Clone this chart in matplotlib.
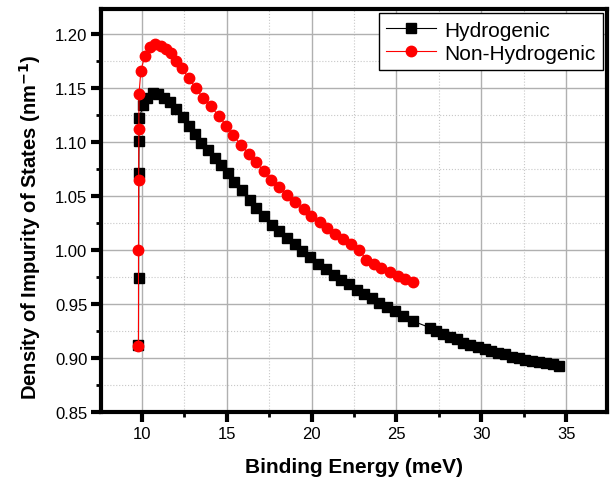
import matplotlib.pyplot as plt
from matplotlib.ticker import MultipleLocator

plt.rcParams['font.family'] = ['Liberation Sans', 'DejaVu Sans']

# Hydrogenic curve (binding energy in meV, DOS in nm^-1)
hyd_x = [9.80, 9.81, 9.82, 9.83, 9.84, 10.08, 10.33, 10.67, 10.96, 11.30, 11.65,
         12.04, 12.43, 12.76, 13.12, 13.50, 13.90, 14.30, 14.65, 15.05, 15.45,
         15.90, 16.35, 16.75, 17.20, 17.65, 18.10, 18.55, 19.00, 19.45, 19.90,
         20.40, 20.85, 21.30, 21.75, 22.20, 22.65, 23.10, 23.55, 24.00, 24.45,
         24.90, 25.40, 25.96,
         26.95, 27.35, 27.75, 28.15, 28.55, 28.95, 29.35, 29.80, 30.20, 30.60,
         31.00, 31.40, 31.80, 32.20, 32.60, 33.00, 33.40, 33.80, 34.20, 34.60]
hyd_y = [0.912, 0.974, 1.071, 1.101, 1.122, 1.134, 1.141, 1.145, 1.144, 1.141, 1.137,
         1.130, 1.123, 1.115, 1.107, 1.099, 1.092, 1.085, 1.079, 1.071, 1.063,
         1.055, 1.046, 1.039, 1.031, 1.023, 1.017, 1.011, 1.005, 0.999, 0.993,
         0.987, 0.982, 0.977, 0.972, 0.968, 0.963, 0.959, 0.955, 0.951, 0.947,
         0.943, 0.939, 0.934,
         0.928, 0.925, 0.922, 0.919, 0.917, 0.914, 0.912, 0.910, 0.908, 0.906,
         0.904, 0.903, 0.901, 0.900, 0.898, 0.897, 0.896, 0.895, 0.894, 0.892]

# Non-hydrogenic curve
non_x = [9.80, 9.80, 9.81, 9.82, 9.83, 9.94, 10.18, 10.47, 10.80, 11.10, 11.40,
         11.70, 12.04, 12.37, 12.76, 13.16, 13.60, 14.06, 14.53, 14.98, 15.37,
         15.85, 16.30, 16.72, 17.18, 17.63, 18.10, 18.57, 19.04, 19.53, 19.98,
         20.47, 20.90, 21.38, 21.86, 22.33, 22.82,
         23.20, 23.65, 24.10, 24.60, 25.10, 25.50, 25.96]
non_y = [0.911, 1.000, 1.065, 1.112, 1.144, 1.166, 1.180, 1.188, 1.191, 1.189, 1.186,
         1.182, 1.175, 1.168, 1.159, 1.150, 1.141, 1.133, 1.124, 1.115, 1.106,
         1.097, 1.089, 1.081, 1.073, 1.065, 1.058, 1.051, 1.044, 1.038, 1.031,
         1.026, 1.020, 1.015, 1.010, 1.005, 1.000,
         0.991, 0.987, 0.983, 0.979, 0.976, 0.973, 0.970]

fig = plt.figure(figsize=(6.13, 4.81), dpi=100)
ax = fig.add_axes([0.165, 0.142, 0.825, 0.837])

ax.plot(hyd_x, hyd_y, color='black', lw=0.8, marker='s', ms=6.5,
        mec='black', mfc='black', label='Hydrogenic', zorder=3)
ax.plot(non_x, non_y, color='red', lw=0.8, marker='o', ms=7.5,
        mec='red', mfc='red', label='Non-Hydrogenic', zorder=4)

ax.set_xlim(7.6, 37.4)
ax.set_ylim(0.85, 1.223)
ax.xaxis.set_major_locator(MultipleLocator(5))
ax.xaxis.set_minor_locator(MultipleLocator(2.5))
ax.yaxis.set_major_locator(MultipleLocator(0.05))
ax.yaxis.set_minor_locator(MultipleLocator(0.025))
ax.yaxis.set_major_formatter(plt.FormatStrFormatter('%.2f'))

ax.grid(which='major', color='#b0b0b0', lw=1.0, ls='-')
ax.grid(which='minor', color='#c8c8c8', lw=0.8, ls=':')
ax.set_axisbelow(True)

for s in ax.spines.values():
    s.set_linewidth(3)
ax.tick_params(which='major', direction='out', length=7, width=3, labelsize=12, pad=3)
ax.tick_params(which='minor', direction='out', length=3.5, width=2)

ax.set_xlabel('Binding Energy (meV)', fontsize=15, fontweight='bold', labelpad=12)
ax.set_ylabel('Density of Impurity of States (nm$^{\\mathbf{-1}}$)', fontsize=14.5,
              fontweight='bold', labelpad=6)
ax.yaxis.set_label_coords(-0.115, 0.46)

leg = ax.legend(loc='upper right', fontsize=15, frameon=True, fancybox=False,
                edgecolor='black', framealpha=1, borderpad=0.35, handlelength=2.4,
                labelspacing=0.2, borderaxespad=0.2, handletextpad=0.4)
leg.get_frame().set_linewidth(1)

fig.savefig('out.png', dpi=100)
